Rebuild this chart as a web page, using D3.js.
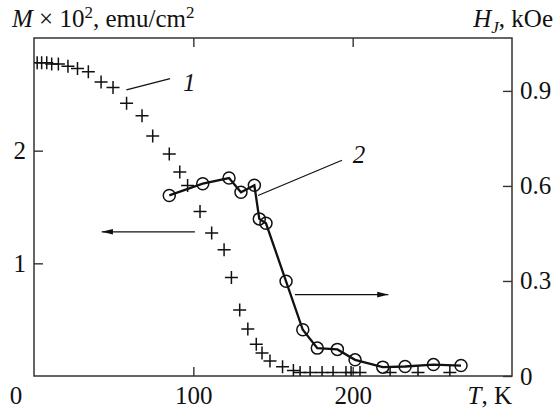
<!DOCTYPE html>
<html>
<head>
<meta charset="utf-8">
<script src="https://cdn.jsdelivr.net/npm/d3@7"></script>
<style>
  body { margin: 0; background: #fff; }
  svg text { font-family: "Liberation Serif", "DejaVu Serif", serif; fill: #111; }
</style>
</head>
<body>
<div id="chart"></div>
<script>
// curve 1: magnetization M (crosses, left axis)
const tempM = [2, 4.8, 8, 11.1, 15.3, 21.3, 27.3, 34.1, 42.1, 49.6, 58.1, 67.8, 74.5, 84.9, 91.5, 96.4,
  104.2, 111.5, 119.3, 123.9, 129.1, 134.2, 139.5, 143.1, 148.1, 156, 162.8,
  167, 173.3, 180.8, 187.7, 195.8, 199, 204.6, 223.5, 241, 261];
const magM = [2.78, 2.78, 2.78, 2.77, 2.77, 2.75, 2.73, 2.70, 2.61, 2.56, 2.42, 2.31, 2.13, 1.97, 1.81, 1.69,
  1.46, 1.27, 1.12, 0.875, 0.585, 0.418, 0.281, 0.205, 0.134, 0.082, 0.049,
  0.03, 0.03, 0.03, 0.03, 0.03, 0.03, 0.03, 0.03, 0.03, 0.03];

// curve 2: field H_J (circles, right axis)
const tempH = [84.9, 105.9, 122.4, 129.9, 138.3, 141.4, 145.6, 158.2, 168.7, 177.8, 190.4, 201.5, 218.9, 232.9, 250.7, 268];
const fieldH = [0.570, 0.607, 0.625, 0.580, 0.602, 0.496, 0.482, 0.299, 0.146, 0.088, 0.084, 0.051, 0.028, 0.030, 0.036, 0.033];

const xTicks = [100, 200];
const leftTicks = [1, 2];
const rightTicks = [0, 0.3, 0.6, 0.9];

const W = 555, H = 410;
const margin = { top: 38, right: 43, bottom: 34, left: 34 },
    width = W - margin.left - margin.right,
    height = H - margin.top - margin.bottom;

const svg = d3.select("#chart")
    .append("svg")
    .attr("width", W)
    .attr("height", H);

const g = svg.append("g")
    .attr("transform", `translate(${margin.left}, ${margin.top})`);

// scales
const x = d3.scaleLinear().domain([0, 300]).range([0, width]);
const yL = d3.scaleLinear().domain([0, 3]).range([height, 0]);
const yR = d3.scaleLinear().domain([0, 1.067]).range([height, 0]);

// clip
g.append("defs").append("clipPath")
    .attr("id", "clip")
    .append("rect")
    .attr("width", width)
    .attr("height", height);

// axes (ticks point inward)
const fs = "25px";
const axisStyle = sel => {
  sel.select(".domain").remove();
  sel.selectAll(".tick line").attr("stroke", "#333").attr("stroke-width", 1.4);
  sel.selectAll(".tick text").style("font-size", fs).attr("fill", "#111");
};

g.append("g")
    .attr("transform", `translate(0, ${height})`)
    .call(d3.axisBottom(x).tickValues(xTicks).tickSize(-9).tickPadding(10))
    .call(axisStyle);
g.append("g")
    .call(d3.axisTop(x).tickValues(xTicks).tickSize(-9).tickFormat(""))
    .call(axisStyle);
g.append("g")
    .call(d3.axisLeft(yL).tickValues(leftTicks).tickSize(-9).tickPadding(8).tickFormat(d3.format("d")))
    .call(axisStyle);
g.append("g")
    .attr("transform", `translate(${width}, 0)`)
    .call(d3.axisRight(yR).tickValues(rightTicks).tickSize(-9).tickPadding(8).tickFormat(d => d === 0 ? "0" : d3.format(".1f")(d)))
    .call(axisStyle);

// frame
g.append("rect")
    .attr("width", width)
    .attr("height", height)
    .attr("fill", "none")
    .attr("stroke", "#333")
    .attr("stroke-width", 1.5);

// corner "0" and T label
g.append("text")
    .attr("x", -18).attr("y", height + 28)
    .attr("text-anchor", "middle")
    .style("font-size", fs)
    .text("0");
const tl = g.append("text")
    .attr("x", width).attr("y", height + 28)
    .attr("text-anchor", "end")
    .style("font-size", fs);
tl.append("tspan").style("font-style", "italic").text("T");
tl.append("tspan").text(", K");

// axis titles
const tt = svg.append("text")
    .attr("x", 12).attr("y", 27)
    .style("font-size", fs);
tt.append("tspan").style("font-style", "italic").text("M");
tt.append("tspan").text(" \u00d7 10");
tt.append("tspan").attr("dy", -9).style("font-size", "17px").text("2");
tt.append("tspan").attr("dy", 9).text(", emu/cm");
tt.append("tspan").attr("dy", -9).style("font-size", "17px").text("2");

const ht = svg.append("text")
    .attr("x", 553).attr("y", 27)
    .attr("text-anchor", "end")
    .style("font-size", fs);
ht.append("tspan").style("font-style", "italic").text("H");
ht.append("tspan").attr("dy", 6).style("font-size", "17px").style("font-style", "italic").text("J");
ht.append("tspan").attr("dy", -6).text(", kOe");

// crosses (curve 1)
const dataM = tempM.map((t, i) => ({ t: t, v: magM[i] }));
g.append("g")
    .attr("clip-path", "url(#clip)")
    .selectAll("path")
    .data(dataM)
    .join("path")
    .attr("transform", d => `translate(${x(d.t)}, ${yL(d.v)})`)
    .attr("d", "M-6.5,0H6.5M0,-6.5V6.5")
    .attr("stroke", "#111")
    .attr("stroke-width", 1.5)
    .attr("fill", "none");

// line + circles (curve 2)
const dataH = tempH.map((t, i) => ({ t: t, v: fieldH[i] }));
const line = d3.line()
    .x(d => x(d.t))
    .y(d => yR(d.v));
g.append("path")
    .datum(dataH)
    .attr("d", line)
    .attr("fill", "none")
    .attr("stroke", "#111")
    .attr("stroke-width", 2.3);
g.selectAll("circle.pt")
    .data(dataH)
    .join("circle")
    .attr("class", "pt")
    .attr("cx", d => x(d.t))
    .attr("cy", d => yR(d.v))
    .attr("r", 6)
    .attr("fill", "none")
    .attr("stroke", "#111")
    .attr("stroke-width", 1.5);

// annotations
const lead1 = [[58, 2.54], [85.4, 2.64]];
const lab1 = [93.5, 2.60];
const lead2 = [[140.6, 0.570], [193.3, 0.681]];
const lab2 = [200, 0.672];
const arrL = [[101, 1.28], [42.5, 1.28]];
const arrR = [[163.8, 0.257], [222.4, 0.257]];

svg.append("defs").append("marker")
    .attr("id", "head")
    .attr("viewBox", "0 -5 14 10")
    .attr("refX", 14).attr("refY", 0)
    .attr("markerUnits", "userSpaceOnUse")
    .attr("markerWidth", 14).attr("markerHeight", 8)
    .attr("orient", "auto")
    .append("path")
    .attr("d", "M0,-3.5L14,0L0,3.5Z")
    .attr("fill", "#111");

g.append("line")
    .attr("x1", x(lead1[0][0])).attr("y1", yL(lead1[0][1]))
    .attr("x2", x(lead1[1][0])).attr("y2", yL(lead1[1][1]))
    .attr("stroke", "#111").attr("stroke-width", 1.2);
g.append("text")
    .attr("x", x(lab1[0])).attr("y", yL(lab1[1]) + 8)
    .style("font-size", fs).style("font-style", "italic")
    .text("1");

g.append("line")
    .attr("x1", x(lead2[0][0])).attr("y1", yR(lead2[0][1]))
    .attr("x2", x(lead2[1][0])).attr("y2", yR(lead2[1][1]))
    .attr("stroke", "#111").attr("stroke-width", 1.2);
g.append("text")
    .attr("x", x(lab2[0])).attr("y", yR(lab2[1]))
    .style("font-size", fs).style("font-style", "italic")
    .text("2");

g.append("line")
    .attr("x1", x(arrL[0][0])).attr("y1", yL(arrL[0][1]))
    .attr("x2", x(arrL[1][0])).attr("y2", yL(arrL[1][1]))
    .attr("stroke", "#111").attr("stroke-width", 1.3)
    .attr("marker-end", "url(#head)");
g.append("line")
    .attr("x1", x(arrR[0][0])).attr("y1", yR(arrR[0][1]))
    .attr("x2", x(arrR[1][0])).attr("y2", yR(arrR[1][1]))
    .attr("stroke", "#111").attr("stroke-width", 1.3)
    .attr("marker-end", "url(#head)");
</script>
</body>
</html>
